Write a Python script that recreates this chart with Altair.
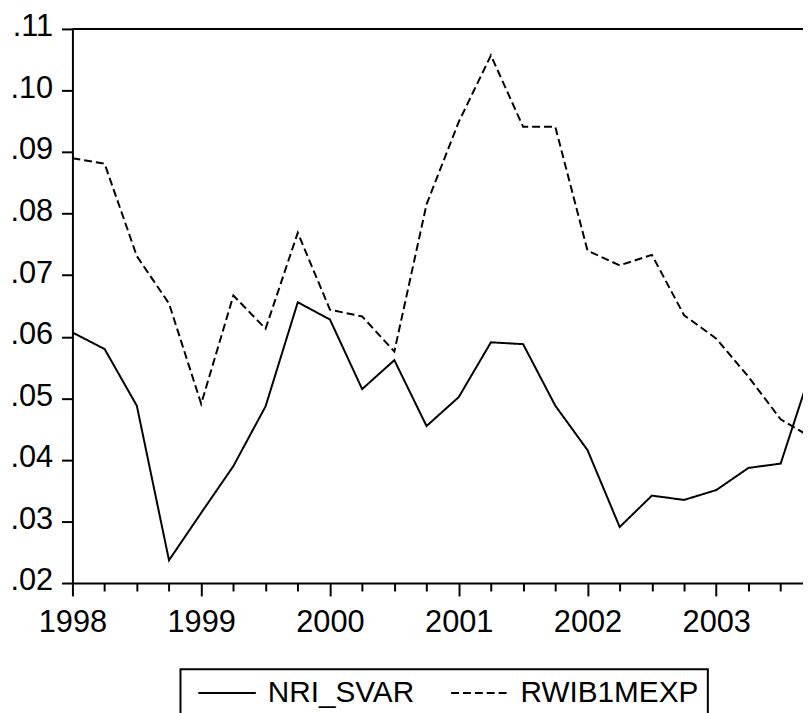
import altair as alt
import pandas as pd

# Quarterly observations 1998Q1 .. 2003Q4
years = [1998, 1999, 2000, 2001, 2002, 2003]
quarters = [1, 2, 3, 4]

nri_svar = [0.0607, 0.0580, 0.0488, 0.0237,
            0.0314, 0.0390, 0.0487, 0.0656,
            0.0628, 0.0515, 0.0562, 0.0455,
            0.0502, 0.0591, 0.0588, 0.0488,
            0.0416, 0.0291, 0.0342, 0.0335,
            0.0351, 0.0387, 0.0394, 0.0554]

rwib1mexp = [0.0890, 0.0881, 0.0731, 0.0654,
             0.0491, 0.0667, 0.0613, 0.0769,
             0.0644, 0.0633, 0.0576, 0.0815,
             0.0949, 0.1057, 0.0941, 0.0941,
             0.0740, 0.0716, 0.0733, 0.0635,
             0.0597, 0.0535, 0.0466, 0.0435]

series_names = ["NRI_SVAR", "RWIB1MEXP"]
y_ticks = [0.02, 0.03, 0.04, 0.05, 0.06, 0.07, 0.08, 0.09, 0.10, 0.11]

t = [y + (q - 1) / 4 for y in years for q in quarters]
df = pd.DataFrame({
    "t": t * 2,
    "value": nri_svar + rwib1mexp,
    "series": [series_names[0]] * len(t) + [series_names[1]] * len(t),
})

x_ticks = [v for v in t if v <= 2003.5]
FONT = "Liberation Sans"
FS = 31

lines = alt.Chart(df).mark_line(strokeWidth=2, color="black", clip=True).encode(
    x=alt.X("t:Q",
            scale=alt.Scale(domain=[1998, 2003.6736], nice=False, zero=False),
            axis=alt.Axis(title=None, values=x_ticks, grid=False,
                          labelExpr="datum.value % 1 == 0 ? format(datum.value, 'd') : ''",
                          tickSize={"condition": {"test": "datum.value % 1 == 0", "value": 13}, "value": 8},
                          labelPadding=12, labelFlush=False, labelOverlap=False)),
    y=alt.Y("value:Q",
            scale=alt.Scale(domain=[0.02, 0.11], nice=False, zero=False),
            axis=alt.Axis(title=None, values=y_ticks, grid=False,
                          labelExpr="replace(format(datum.value, '.2f'), '0.', '.')",
                          tickSize=11, labelPadding=9, labelOffset=-2)),
    strokeDash=alt.StrokeDash("series:N",
                              scale=alt.Scale(domain=series_names, range=[[1, 0], [8, 4]]),
                              legend=alt.Legend(title=None, orient="none", direction="horizontal",
                                                legendX=109, legendY=646,
                                                symbolType="M-0.6,0L5.2,0", symbolSize=400,
                                                symbolStrokeWidth=2, symbolStrokeColor="black",
                                                labelFontSize=30, labelFont=FONT, labelLimit=400,
                                                labelOffset=49, columnPadding=28,
                                                padding=9, strokeColor="black")),
)

top_frame = alt.Chart(pd.DataFrame({"v": [y_ticks[-1]]})).mark_rule(
    color="black", strokeWidth=2).encode(y="v:Q")

chart = alt.layer(lines, top_frame).properties(
    width=737, height=559,
    autosize=alt.AutoSizeParams(type="none"),
    padding={"left": 65, "top": 18, "right": 0, "bottom": 128},
).configure_view(stroke=None).configure_axis(
    domainColor="black", domainWidth=2, tickColor="black", tickWidth=2,
    labelFont=FONT, labelFontSize=FS, labelColor="black",
).configure_legend(strokeWidth=2)

chart.save("out.html", embed_options={"renderer": "svg", "actions": False})
